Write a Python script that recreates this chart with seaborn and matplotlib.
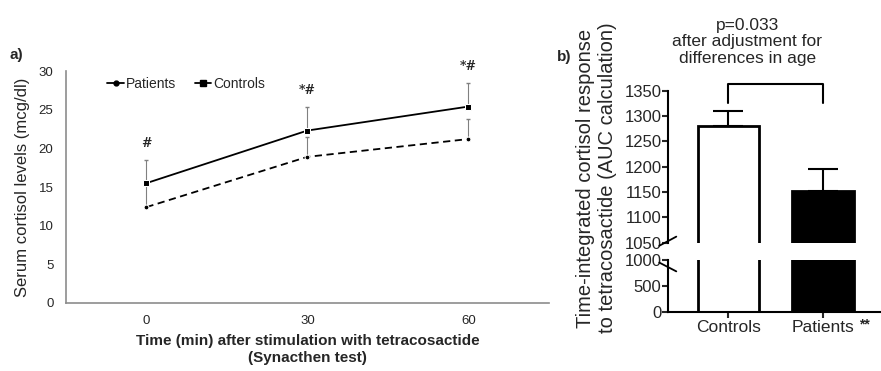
import pandas as pd
import matplotlib.pyplot as plt
import seaborn as sns
from matplotlib.lines import Line2D

# === DATA ===
times = [0, 30, 60]
patients_mean = [12.4, 18.9, 21.2]
patients_err = [2.8, 2.6, 2.6]
controls_mean = [15.5, 22.3, 25.4]
controls_err = [3.0, 3.0, 3.0]
sig_labels = ["#", "*#", "*#"]

auc_groups = ["Controls", "Patients"]
auc_mean = [1280, 1152]
auc_err = [30, 44]

sns.set_theme(style="white")
plt.rcParams["font.family"] = ["Liberation Sans", "DejaVu Sans"]

df = pd.DataFrame({
    "time": times * 2,
    "cortisol": patients_mean + controls_mean,
    "group": ["Patients"] * 3 + ["Controls"] * 3,
})

fig = plt.figure(figsize=(8.81, 3.71), dpi=100)

# === PANEL A: CORTISOL OVER TIME ===
ax1 = fig.add_axes([0.0749, 0.1833, 0.548, 0.6253])
ax1.errorbar(times, controls_mean, yerr=[[0] * 3, controls_err], fmt="none",
             ecolor="#808080", elinewidth=0.8, capsize=1.5, zorder=1)
ax1.errorbar(times, patients_mean, yerr=[[0] * 3, patients_err], fmt="none",
             ecolor="#808080", elinewidth=0.8, capsize=1.5, zorder=1)
sns.lineplot(data=df, x="time", y="cortisol", hue="group", style="group",
             palette={"Patients": "black", "Controls": "black"},
             markers={"Patients": "o", "Controls": "s"},
             dashes={"Patients": (4, 2.5), "Controls": ""},
             markersize=5, linewidth=1.3, legend=False, ax=ax1, zorder=3)
for line in ax1.lines:
    if line.get_marker() == "o":
        line.set_markersize(3.5)

for t, m, e, s in zip(times, controls_mean, controls_err, sig_labels):
    ax1.text(t, m + e + 1.3, s, ha="center", va="bottom", fontsize=9,
             fontweight="bold", family="DejaVu Serif")

ax1.set_xlim(-15, 75)
ax1.set_ylim(0, 30)
ax1.set_xticks(times)
ax1.set_yticks(range(0, 31, 5))
ax1.tick_params(labelsize=9.5, length=0, pad=9)
for side in ["top", "right"]:
    ax1.spines[side].set_visible(False)
for side in ["left", "bottom"]:
    ax1.spines[side].set_color("#8c8c8c")
    ax1.spines[side].set_linewidth(1.2)
ax1.set_ylabel("Serum cortisol levels (mcg/dl)", fontsize=12, labelpad=6)
ax1.set_xlabel("Time (min) after stimulation with tetracosactide\n(Synacthen test)",
               fontsize=11, fontweight="bold", labelpad=5, linespacing=1.25)

handles = [
    Line2D([], [], color="black", marker="o", markersize=3.5, linewidth=1.3),
    Line2D([], [], color="black", marker="s", markersize=4.5, linewidth=1.3),
]
ax1.legend(handles, ["Patients", "Controls"], loc="upper left", ncol=2,
           frameon=False, fontsize=10, handlelength=1.2, handletextpad=0.15,
           columnspacing=1.3, bbox_to_anchor=(0.06, 1.03))
fig.text(0.011, 0.84, "a)", fontsize=11, fontweight="bold")

# === PANEL B: AUC WITH BROKEN AXIS ===
ax_top = fig.add_axes([0.758, 0.3458, 0.241, 0.4097])
ax_bot = fig.add_axes([0.758, 0.1598, 0.241, 0.1394])

for ax in [ax_top, ax_bot]:
    sns.barplot(x=auc_groups, y=auc_mean, hue=auc_groups,
                palette={"Controls": "white", "Patients": "black"},
                edgecolor="black", linewidth=2, width=0.65, legend=False,
                errorbar=None, ax=ax)
    ax.set_xlim(-0.64, 1.6)
    for side in ["top", "right"]:
        ax.spines[side].set_visible(False)
    ax.spines["left"].set_color("black")
    ax.spines["left"].set_linewidth(1.5)
    ax.tick_params(axis="y", left=True, length=4, width=1.5, labelsize=12, pad=0.5)

ax_top.errorbar([0, 1], auc_mean, yerr=[[0, 0], auc_err], fmt="none",
                ecolor="black", elinewidth=1.5, capsize=11, capthick=1.5, zorder=0)
ax_top.set_ylim(1050, 1350)
ax_top.set_yticks(range(1050, 1351, 50))
ax_top.spines["bottom"].set_visible(False)
ax_top.set_xticks([])
ax_top.set_ylabel("")

ax_bot.set_ylim(0, 1000)
ax_bot.set_yticks([0, 500, 1000])
ax_bot.spines["bottom"].set_color("black")
ax_bot.spines["bottom"].set_linewidth(1.5)
ax_bot.tick_params(axis="x", bottom=True, length=4, width=1.5, labelsize=12.5, pad=2)
ax_bot.set_xticks([0, 1])
ax_bot.set_xticklabels(["Controls", "Patients"])
ax_bot.set_ylabel("")
ax_bot.text(1.38, -250, "**", fontsize=10, fontweight="bold", ha="left", va="center")

# break marks on the y-axis
kw = dict(color="black", linewidth=1.3, clip_on=False)
ax_top.plot([-0.04, 0.04], [-0.02, 0.04], transform=ax_top.transAxes, **kw)
ax_bot.plot([-0.04, 0.04], [0.95, 0.78], transform=ax_bot.transAxes, **kw)

# significance bracket
ax_top.plot([0, 0, 1, 1], [1326, 1363, 1363, 1326], color="black",
            linewidth=1.5, clip_on=False)
fig.text(0.848, 0.887, "p=0.033\nafter adjustment for\ndifferences in age",
         ha="center", va="center", fontsize=12.5, linespacing=1.15)

fig.text(0.677, 0.52, "Time-integrated cortisol response\nto tetracosactide (AUC calculation)",
         rotation=90, ha="center", va="center", fontsize=14.5, linespacing=1.2)
fig.text(0.632, 0.835, "b)", fontsize=11, fontweight="bold")

plt.savefig("out.png", dpi=100)
